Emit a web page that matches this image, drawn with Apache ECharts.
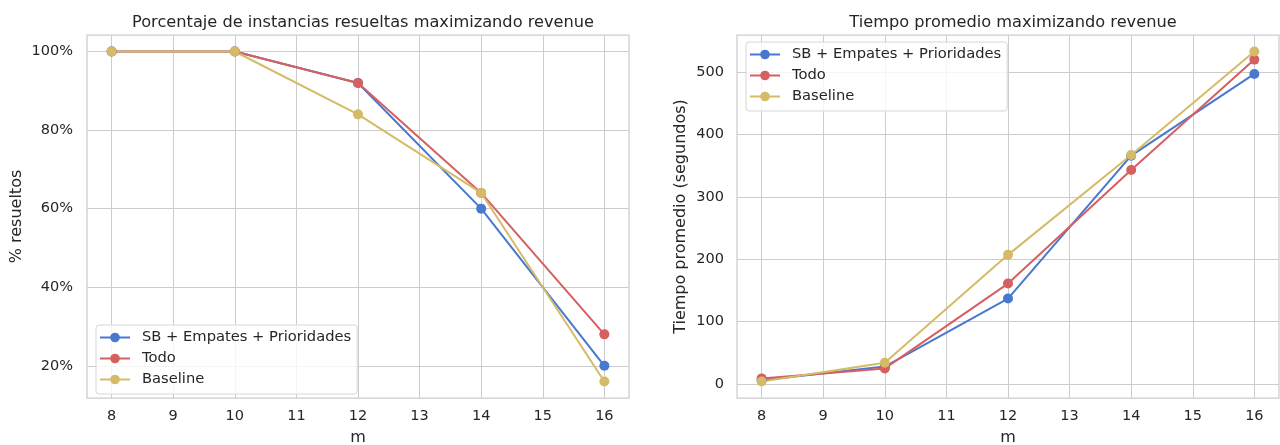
<!DOCTYPE html>
<html>
<head>
<meta charset="utf-8">
<script src="https://cdn.jsdelivr.net/npm/echarts@6/dist/echarts.min.js"></script>
<style>
  html, body { margin: 0; padding: 0; background: #ffffff; }
  #chart { width: 1280px; height: 445px; }
</style>
</head>
<body>
<div id="chart"></div>
<script>
// Instance size m
const mValues = [8, 10, 12, 14, 16];

// Share of instances solved (%)
const pctSB = [100, 100, 92, 60, 20];
const pctTodo = [100, 100, 92, 64, 28];
const pctBaseline = [100, 100, 84, 64, 16];

// Average solve time (seconds)
const timeSB = [6, 28, 137, 366, 497];
const timeTodo = [9, 25, 161, 343, 520];
const timeBaseline = [4, 34, 207, 367, 533];

// Tick positions
const mTicks = [8, 9, 10, 11, 12, 13, 14, 15, 16];
const pctTicks = [20, 40, 60, 80, 100];
const timeTicks = [0, 100, 200, 300, 400, 500];

const seriesNames = ['SB + Empates + Prioridades', 'Todo', 'Baseline'];
const colors = ['#4878CF', '#D65F5F', '#D5BB67'];

const FONT = 'DejaVu Sans';
const TEXT = '#262626';
const GRID = '#cccccc';

const pair = (xs, ys) => xs.map((x, i) => [x, ys[i]]);

function xAxisFor(gridIndex) {
  return {
    type: 'value', gridIndex,
    min: 7.6, max: 16.4,
    name: 'm', nameLocation: 'middle', nameGap: 32,
    nameTextStyle: { fontFamily: FONT, fontSize: 16, color: TEXT },
    axisLine: { show: false },
    axisTick: { show: false, customValues: mTicks },
    axisLabel: { customValues: mTicks, fontFamily: FONT, fontSize: 14.5, color: TEXT, margin: 11 },
    splitLine: { show: true, lineStyle: { color: GRID, width: 1 } }
  };
}

function lineSeries(name, idx, data, axisIndex) {
  return {
    type: 'line', name, data,
    xAxisIndex: axisIndex, yAxisIndex: axisIndex,
    symbol: 'circle', symbolSize: 10,
    color: colors[idx],
    lineStyle: { width: 2, color: colors[idx] },
    itemStyle: { color: colors[idx] },
    emphasis: { disabled: true },
    animation: false
  };
}

function legendAt(left, top) {
  return {
    data: seriesNames,
    orient: 'vertical', left, top,
    itemWidth: 30, itemHeight: 12, itemGap: 4,
    padding: [4, 6, 6, 3],
    backgroundColor: 'rgba(255,255,255,0.8)',
    borderColor: '#d6d6d6', borderWidth: 1, borderRadius: 3,
    textStyle: { fontFamily: FONT, fontSize: 14.7, lineHeight: 17, color: TEXT, padding: [0, 0, 0, 7] },
    selectedMode: false
  };
}

const chart = echarts.init(document.getElementById('chart'), null, { renderer: 'canvas' });

chart.setOption({
  backgroundColor: '#ffffff',
  animation: false,
  title: [
    { text: 'Porcentaje de instancias resueltas maximizando revenue', left: 358, top: 10, textAlign: 'center',
      textStyle: { fontFamily: FONT, fontSize: 16.2, fontWeight: 'normal', color: TEXT } },
    { text: 'Tiempo promedio maximizando revenue', left: 1008, top: 10, textAlign: 'center',
      textStyle: { fontFamily: FONT, fontSize: 16.2, fontWeight: 'normal', color: TEXT } }
  ],
  grid: [
    { left: 87, right: 651, top: 35, bottom: 47, outerBoundsMode: 'none', containLabel: false,
      show: true, borderColor: GRID, borderWidth: 1.25, backgroundColor: '#ffffff' },
    { left: 737, right: 1, top: 35, bottom: 47, outerBoundsMode: 'none', containLabel: false,
      show: true, borderColor: GRID, borderWidth: 1.25, backgroundColor: '#ffffff' }
  ],
  legend: [legendAt(96, 325), legendAt(746, 42)],
  xAxis: [xAxisFor(0), xAxisFor(1)],
  yAxis: [
    {
      type: 'value', gridIndex: 0, min: 11.8, max: 104.2,
      name: '% resueltos', nameLocation: 'middle', nameGap: 62,
      nameTextStyle: { fontFamily: FONT, fontSize: 16, color: TEXT },
      axisLine: { show: false },
      axisTick: { show: false, customValues: pctTicks },
      axisLabel: { customValues: pctTicks, formatter: '{value}%', fontFamily: FONT, fontSize: 14.5, color: TEXT, margin: 14 },
      splitLine: { show: true, lineStyle: { color: GRID, width: 1 } }
    },
    {
      type: 'value', gridIndex: 1, min: -22.45, max: 559.45,
      name: 'Tiempo promedio (segundos)', nameLocation: 'middle', nameGap: 48,
      nameTextStyle: { fontFamily: FONT, fontSize: 16, color: TEXT },
      axisLine: { show: false },
      axisTick: { show: false, customValues: timeTicks },
      axisLabel: { customValues: timeTicks, fontFamily: FONT, fontSize: 14.5, color: TEXT, margin: 13 },
      splitLine: { show: true, lineStyle: { color: GRID, width: 1 } }
    }
  ],
  series: [
    lineSeries(seriesNames[0], 0, pair(mValues, pctSB), 0),
    lineSeries(seriesNames[1], 1, pair(mValues, pctTodo), 0),
    lineSeries(seriesNames[2], 2, pair(mValues, pctBaseline), 0),
    lineSeries(seriesNames[0], 0, pair(mValues, timeSB), 1),
    lineSeries(seriesNames[1], 1, pair(mValues, timeTodo), 1),
    lineSeries(seriesNames[2], 2, pair(mValues, timeBaseline), 1)
  ]
});
</script>
</body>
</html>
